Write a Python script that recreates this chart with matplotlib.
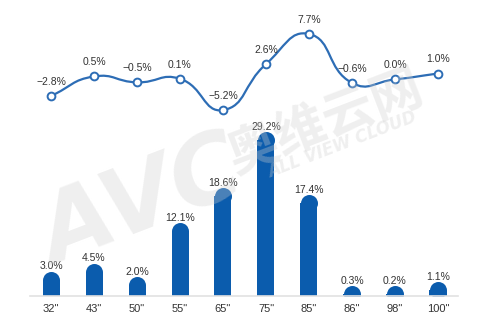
"""Screen-size share bars with year-on-year change line."""

import matplotlib
matplotlib.use("Agg")
import matplotlib.pyplot as plt
import numpy as np
from matplotlib.path import Path
from matplotlib.patches import PathPatch

sizes = ['32"', '43"', '50"', '55"', '65"', '75"', '85"', '86"', '98"', '100"']
share = [3.0, 4.5, 2.0, 12.1, 18.6, 29.2, 17.4, 0.3, 0.2, 1.1]
change = [-2.8, 0.5, -0.5, 0.1, -5.2, 2.6, 7.7, -0.6, 0.0, 1.0]

BAR_COLOR = "#0b5cad"
LINE_COLOR = "#2d6db5"
TEXT_COLOR = "#333333"

W, H, DPI = 500, 328, 100
fig = plt.figure(figsize=(W / DPI, H / DPI), dpi=DPI)
fig.patch.set_facecolor("white")

# pixel geometry of the plotting area
left_px, right_px = 30, 458
step_px = 43.0
first_px = 51
x0 = -(first_px - left_px) / step_px
x1 = (right_px - first_px) / step_px
base_px = 295.5
bar_scale = 5.33            # px per percent on the bars
bar_ymax = 32
bar_h_px = bar_ymax * bar_scale

ax = fig.add_axes([left_px / W, (H - base_px) / H,
                   (right_px - left_px) / W, bar_h_px / H])
ax.set_xlim(x0, x1)
ax.set_ylim(0, bar_ymax)
ax.patch.set_alpha(0)

x = np.arange(len(sizes))
bar_w_px = 17
bar_w = bar_w_px / step_px
ax.bar(x, share, width=bar_w, color=BAR_COLOR, zorder=2)
# rounded caps sit on top of each bar
ax.plot(x, share, "o", ms=bar_w_px * 72 / DPI, color=BAR_COLOR,
        mew=0, zorder=2, clip_on=True)

for xi, v in zip(x, share):
    ax.annotate(f"{v:.1f}%", (xi, v), xytext=(0, 5.8), textcoords="offset points",
                ha="center", va="bottom", fontsize=7.5, color=TEXT_COLOR,
                family="Liberation Sans", zorder=3)

for s in ["top", "right", "left"]:
    ax.spines[s].set_visible(False)
ax.spines["bottom"].set_color("#e2e2e2")
ax.spines["bottom"].set_linewidth(1.2)
ax.set_yticks([])
ax.set_xticks(x)
ax.set_xticklabels(sizes, fontsize=8, color=TEXT_COLOR, family="Liberation Sans")
ax.tick_params(axis="x", length=0, pad=6)

# change line on its own axes in the upper band
line_scale = 5.9            # px per percent on the line
zero_px = 79.4
lo, hi = -10, 10
lax = fig.add_axes([left_px / W, (H - (zero_px - lo * line_scale)) / H,
                    (right_px - left_px) / W, (hi - lo) * line_scale / H])
lax.set_xlim(x0, x1)
lax.set_ylim(lo, hi)
lax.axis("off")

# smooth bezier through the points, control points worked out in pixel space
px = x * step_px
py = np.array(change) * line_scale
pts = np.column_stack([px, py])
smooth = 0.5
cps = []
for i in range(len(pts)):
    prev = pts[i - 1] if i > 0 else pts[i]
    nxt = pts[i + 1] if i < len(pts) - 1 else pts[i]
    v = (nxt - prev) * smooth
    d0 = np.hypot(*(pts[i] - prev))
    d1 = np.hypot(*(nxt - pts[i]))
    tot = d0 + d1
    if tot:
        d0, d1 = d0 / tot, d1 / tot
    cps.append((pts[i] - v * d0, pts[i] + v * d1))

verts = [pts[0]]
codes = [Path.MOVETO]
for i in range(len(pts) - 1):
    verts += [cps[i][1], cps[i + 1][0], pts[i + 1]]
    codes += [Path.CURVE4] * 3
verts = np.array(verts) / np.array([step_px, line_scale])
lax.add_patch(PathPatch(Path(verts, codes), fill=False, edgecolor=LINE_COLOR,
                        lw=1.6, zorder=2))
lax.plot(x, change, "o", ms=5.6, mfc="white", mec=LINE_COLOR, mew=1.4, zorder=3)

for xi, v in zip(x, change):
    lab = f"{v:.1f}%".replace("-", "\u2212")
    lax.annotate(lab, (xi, v), xytext=(0, 6.5), textcoords="offset points",
                 ha="center", va="bottom", fontsize=7.5, color=TEXT_COLOR,
                 family="Liberation Sans", zorder=3)

# faint brand mark laid over the plot
wm = dict(color="#cfcfcf", alpha=0.33, ha="center", va="center",
          rotation=21, zorder=10)
fig.text(142 / W, 1 - 205 / H, "AVC", fontsize=68, fontweight="heavy",
         style="italic", family="DejaVu Sans", **wm)
fig.text(325 / W, 1 - 122 / H, "奥维云网", fontsize=37, fontweight="bold",
         family="Noto Sans CJK SC", **wm)
fig.text(342 / W, 1 - 145 / H, "ALL VIEW CLOUD", fontsize=12, fontweight="bold",
         style="italic", family="DejaVu Sans", **wm)

fig.savefig("out.png", dpi=DPI, facecolor="white")
